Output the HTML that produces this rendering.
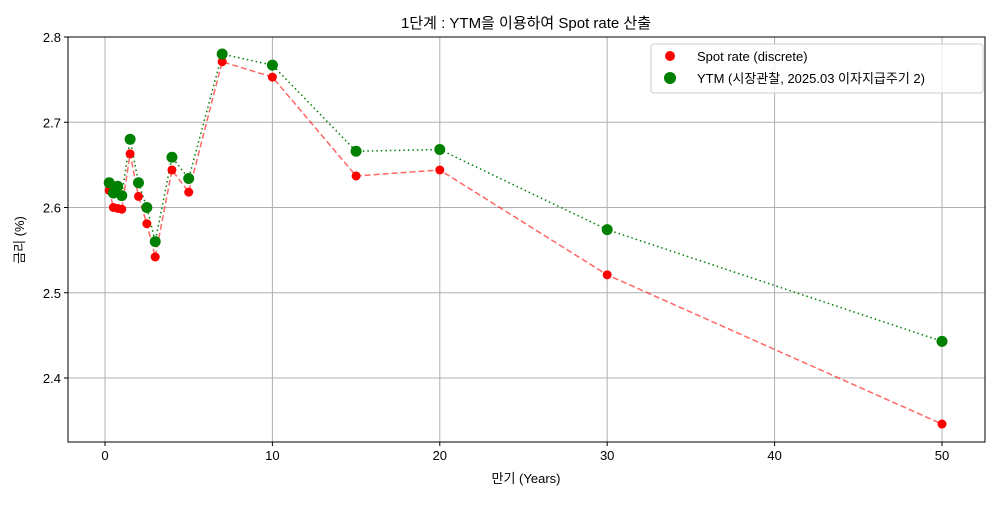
<!DOCTYPE html>
<html><head><meta charset="utf-8"><style>
body{margin:0;background:#fff;font-family:"Liberation Sans","Noto Sans CJK KR",sans-serif;}
svg text{font-family:"Liberation Sans","Noto Sans CJK KR",sans-serif;fill:#000;}
</style></head><body>
<svg id="chart" width="1000" height="500" xmlns="http://www.w3.org/2000/svg">
<rect width="1000" height="500" fill="#fff"/>
<g id="grid"></g>
<g id="axes"></g>
<g id="series"></g>
<text x="526" y="28" text-anchor="middle" font-size="15">1단계 : YTM을 이용하여 Spot rate 산출</text>
<text x="526" y="483" text-anchor="middle" font-size="13">만기 (Years)</text>
<text x="24" y="240" text-anchor="middle" font-size="13" transform="rotate(-90 24 240)">금리 (%)</text>
<g>
<rect x="651" y="44" width="332" height="49" fill="#fff" fill-opacity="0.8" stroke="#ccc" rx="3"/>
<circle cx="670" cy="56" r="5" fill="red"/>
<text x="697" y="61" font-size="13">Spot rate (discrete)</text>
<circle cx="670" cy="78" r="6" fill="green"/>
<text x="697" y="83" font-size="13">YTM (시장관찰, 2025.03 이자지급주기 2)</text>
</g>
</svg>
<script>
const maturities=[0.25,0.5,0.75,1,1.5,2,2.5,3,4,5,7,10,15,20,30,50];
const spotValues=[2.620,2.600,2.599,2.598,2.663,2.613,2.581,2.542,2.644,2.618,2.771,2.753,2.637,2.644,2.521,2.346];
const ytmValues=[2.629,2.617,2.625,2.614,2.680,2.629,2.600,2.560,2.659,2.634,2.780,2.767,2.666,2.668,2.574,2.443];
const xTicks=[0,10,20,30,40,50];
const yTicks=[2.4,2.5,2.6,2.7,2.8];
const NS='http://www.w3.org/2000/svg';
const L=68,R=985,T=37,B=442;
const xs=v=>105+v*(942-105)/50;
const ys=v=>37+(2.8-v)*(378-37)/0.4;
function mk(tag,attrs,parent){const e=document.createElementNS(NS,tag);for(const k in attrs)e.setAttribute(k,attrs[k]);parent.appendChild(e);return e;}
const grid=document.getElementById('grid'),axes=document.getElementById('axes'),ser=document.getElementById('series');
xTicks.forEach(t=>{const x=xs(t);
const g=mk('line',{x1:x,x2:x,y1:T,y2:B,stroke:'#b0b0b0','stroke-width':1},grid);


mk('line',{x1:x,x2:x,y1:B,y2:B+4,stroke:'#000'},axes);
const tx=mk('text',{x:x,y:B+18,'text-anchor':'middle','font-size':13},axes);tx.textContent=t;

});
yTicks.forEach(t=>{const y=ys(t);
const g=mk('line',{x1:L,x2:R,y1:y,y2:y,stroke:'#b0b0b0','stroke-width':1},grid);


mk('line',{x1:L-4,x2:L,y1:y,y2:y,stroke:'#000'},axes);
const tx=mk('text',{x:L-7,y:y+5,'text-anchor':'end','font-size':13},axes);tx.textContent=t.toFixed(1);

});
const fr=mk('rect',{x:L,y:T,width:R-L,height:B-T,fill:'none',stroke:'#000','stroke-width':1},axes);


const pts=a=>maturities.map((m,i)=>xs(m)+','+ys(a[i])).join(' ');
const l1=mk('polyline',{points:pts(spotValues),fill:'none',stroke:'red','stroke-opacity':0.6,'stroke-width':1.5,'stroke-dasharray':'6,3'},ser);


const l2=mk('polyline',{points:pts(ytmValues),fill:'none',stroke:'green','stroke-width':1.5,'stroke-dasharray':'1.5,3'},ser);


maturities.forEach((m,i)=>{const c=mk('circle',{cx:xs(m),cy:ys(spotValues[i]),r:4.5,fill:'red'},ser);

});
maturities.forEach((m,i)=>{const c=mk('circle',{cx:xs(m),cy:ys(ytmValues[i]),r:5.5,fill:'green'},ser);

});
</script>
</body></html>
